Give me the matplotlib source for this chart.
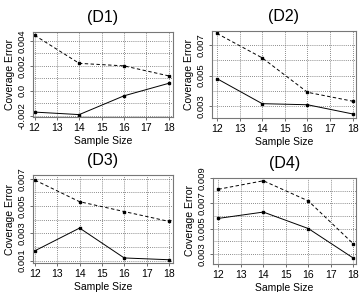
import numpy as np
import matplotlib.pyplot as plt

plt.rcParams['font.family'] = ['Liberation Sans', 'DejaVu Sans']

sizes = [12, 14, 16, 18]
titles = ['(D1)', '(D2)', '(D3)', '(D4)']
# upper (dashed) and lower (solid) series for each panel
dashed = [
    [0.00445, 0.0022, 0.0020, 0.0012],
    [0.00774, 0.00615, 0.00391, 0.00333],
    [0.0069, 0.00532, 0.0046, 0.00388],
    [0.0081, 0.00877, 0.00718, 0.0038],
]
solid = [
    [-0.0017, -0.0019, -0.0004, 0.0006],
    [0.0048, 0.00317, 0.0031, 0.0025],
    [0.00173, 0.00339, 0.0012, 0.00107],
    [0.0058, 0.0063, 0.0050, 0.00267],
]
ytick_vals = [
    [-0.002, 0.0, 0.002, 0.004],
    [0.003, 0.005, 0.007],
    [0.001, 0.003, 0.005, 0.007],
    [0.003, 0.005, 0.007, 0.009],
]
ytick_labels = [
    ['-0.002', '0.0', '0.002', '0.004'],
    ['0.003', '0.005', '0.007'],
    ['0.001', '0.003', '0.005', '0.007'],
    ['0.003', '0.005', '0.007', '0.009'],
]
ylims = [(-0.0021, 0.0047), (0.00224, 0.0079), (0.00083, 0.00727), (0.0022, 0.009)]
xlims = [(11.93, 18.2), (11.78, 18.14), (11.91, 18.19), (11.76, 18.12)]
boxes = [
    [0.0914, 0.599, 0.388, 0.291],
    [0.587, 0.596, 0.399, 0.298],
    [0.0914, 0.0993, 0.388, 0.301],
    [0.590, 0.0959, 0.396, 0.295],
]

fig = plt.figure(figsize=(3.61, 2.92), dpi=100)
for i in range(4):
    ax = fig.add_axes(boxes[i])
    ax.plot(sizes, dashed[i], color='black', linestyle=(0, (3.5, 2.5)), linewidth=0.7,
            marker='s', markersize=1.8)
    ax.plot(sizes, solid[i], color='black', linestyle='-', linewidth=0.7,
            marker='s', markersize=1.8)
    ax.set_xlim(xlims[i])
    ax.set_ylim(ylims[i])
    ax.set_xticks(range(12, 19))
    ax.set_yticks(ytick_vals[i])
    ax.set_yticklabels(ytick_labels[i], rotation=90, va='center', fontsize=6.8)
    # grid every 0.001
    lo = ytick_vals[i][0]
    hi = ytick_vals[i][-1]
    for g in np.arange(lo, hi + 0.0005, 0.001):
        ax.axhline(g, color='#666666', linestyle=(0, (1, 1.5)), linewidth=0.6, zorder=0)
    for g in range(12, 19):
        ax.axvline(g, color='#666666', linestyle=(0, (1, 1.5)), linewidth=0.6, zorder=0)
    for s in ax.spines.values():
        s.set_color('#777777')
        s.set_linewidth(0.8)
    ax.tick_params(axis='x', labelsize=7.5)
    ax.tick_params(length=2.5, width=0.6, pad=2, color='#555555')
    ax.set_title(titles[i], fontsize=11.5, pad=7)
    ax.set_xlabel('Sample Size', fontsize=7.5, labelpad=2)
    ax.set_ylabel('Coverage Error', fontsize=7.5, labelpad=2)

fig.savefig('out.png', dpi=100)
